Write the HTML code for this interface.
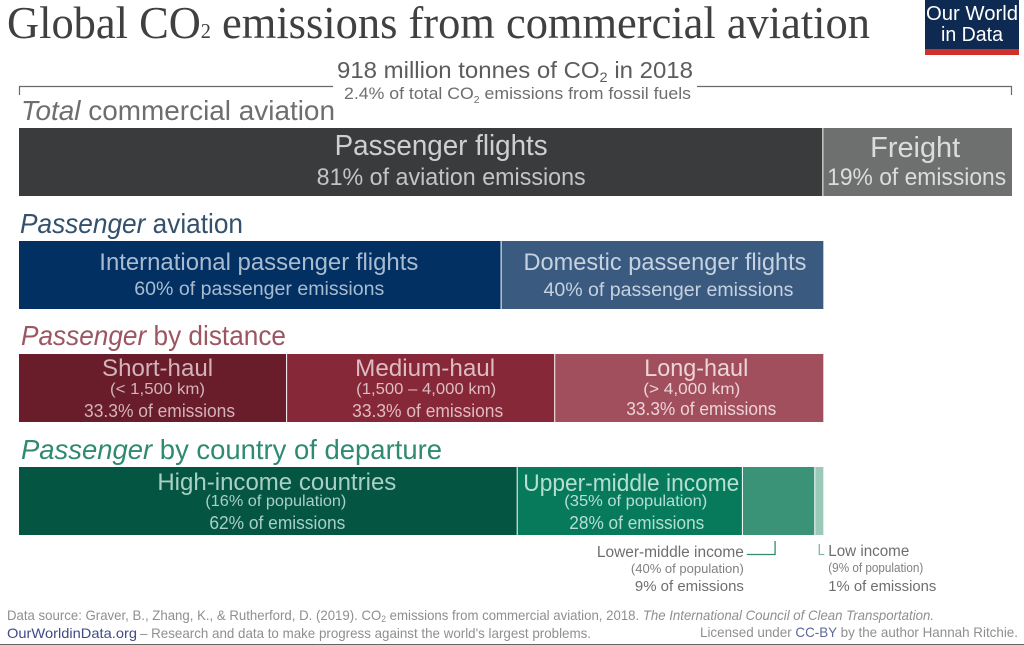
<!DOCTYPE html>
<html lang="en">
<head>
<meta charset="utf-8">
<title>Global CO2 emissions from commercial aviation</title>
<style>
html,body{margin:0;padding:0;background:#fff;}
body{width:1024px;height:645px;overflow:hidden;}
svg{display:block;}
text{font-family:"Liberation Sans",sans-serif;}
.serif{font-family:"Liberation Serif",serif;}
</style>
</head>
<body>
<svg id="chart" xmlns="http://www.w3.org/2000/svg" width="1024" height="645" viewBox="0 0 1024 645">
  <rect x="0" y="0" width="1024" height="645" fill="#ffffff"/>
  <text class="serif" x="7" y="38" font-size="46" fill="#404040" textLength="863" lengthAdjust="spacingAndGlyphs">Global CO<tspan font-size="21">2</tspan> emissions from commercial aviation</text>

  <g>
    <rect x="925" y="0" width="94" height="49" fill="#0f2a52"/>
    <rect x="925" y="49" width="94" height="6" fill="#d0302a"/>
    <text x="972" y="20" font-size="20" fill="#ffffff" text-anchor="middle" textLength="92" lengthAdjust="spacingAndGlyphs">Our World</text>
    <text x="972" y="41" font-size="20" fill="#ffffff" text-anchor="middle" textLength="62" lengthAdjust="spacingAndGlyphs">in Data</text>
  </g>

  <text x="337" y="78" font-size="23" fill="#5c5c5c" textLength="356" lengthAdjust="spacingAndGlyphs">918 million tonnes of CO<tspan font-size="14" dy="4">2</tspan><tspan dy="-4"> in 2018</tspan></text>
  <text x="344" y="99" font-size="17" fill="#6e6e6e" textLength="347" lengthAdjust="spacingAndGlyphs">2.4% of total CO<tspan font-size="10" dy="4">2</tspan><tspan dy="-4"> emissions from fossil fuels</tspan></text>
  <path d="M19.5 95V86.5H333" fill="none" stroke="#6a6a6a" stroke-width="1.2"/>
  <path d="M697 86.5H1011.5V95" fill="none" stroke="#6a6a6a" stroke-width="1.2"/>

  <text x="21" y="120" font-size="28" fill="#6e6e6e" textLength="314" lengthAdjust="spacingAndGlyphs"><tspan font-style="italic">Total</tspan> commercial aviation</text>
  <text x="20" y="233" font-size="28" fill="#33506c" textLength="223" lengthAdjust="spacingAndGlyphs"><tspan font-style="italic">Passenger</tspan> aviation</text>
  <text x="21" y="345" font-size="28" fill="#9c5562" textLength="265" lengthAdjust="spacingAndGlyphs"><tspan font-style="italic">Passenger</tspan> by distance</text>
  <text x="21" y="459" font-size="28" fill="#2e8a71" textLength="421" lengthAdjust="spacingAndGlyphs"><tspan font-style="italic">Passenger</tspan> by country of departure</text>

  <g id="bars"></g>
  <g id="labels"></g>

  <g>
    <text x="7" y="620" font-size="14" fill="#8f8f8f" textLength="927" lengthAdjust="spacingAndGlyphs">Data source: Graver, B., Zhang, K., &amp; Rutherford, D. (2019). CO<tspan font-size="9" dy="2">2</tspan><tspan dy="-2"> emissions from commercial aviation, 2018. </tspan><tspan font-style="italic">The International Council of Clean Transportation.</tspan></text>
    <text x="7" y="638" font-size="14" fill="#3f4c85" textLength="130" lengthAdjust="spacingAndGlyphs">OurWorldinData.org</text>
    <text x="140" y="638" font-size="14" fill="#8f8f8f" textLength="451" lengthAdjust="spacingAndGlyphs">– Research and data to make progress against the world's largest problems.</text>
    <text x="700" y="637" font-size="14" fill="#8f8f8f" textLength="318" lengthAdjust="spacingAndGlyphs">Licensed under <tspan fill="#5a6a9a">CC-BY</tspan> by the author Hannah Ritchie.</text>
    <rect x="0" y="644" width="1024" height="1" fill="#666666"/>
  </g>
</svg>
<script>
// Shares of emissions (percent).
const totalCategories = ['Passenger flights', 'Freight'];
const totalValues = [81, 19];
const passengerCategories = ['International passenger flights', 'Domestic passenger flights'];
const passengerValues = [60, 40];
const distanceCategories = ['Short-haul', 'Medium-haul', 'Long-haul'];
const distanceRanges = ['(< 1,500 km)', '(1,500 – 4,000 km)', '(> 4,000 km)'];
const distanceValues = [33.3, 33.3, 33.3];
const incomeCategories = ['High-income countries', 'Upper-middle income', 'Lower-middle income', 'Low income'];
const incomePopulation = [16, 35, 40, 9];
const incomeValues = [62, 28, 9, 1];

const SVGNS = 'http://www.w3.org/2000/svg';
const barsLayer = document.getElementById('bars');
const labelsLayer = document.getElementById('labels');

// Axis: full width of the total bar is 100% of aviation emissions.
const AXIS_LEFT = 19;
const AXIS_WIDTH = 993;
function xScale(percent) { return AXIS_LEFT + AXIS_WIDTH * percent / 100; }

// Splits [start, end] percent span into segments with pixel edges.
function layoutRow(values, spanStart, spanEnd) {
  const sum = values.reduce(function (a, b) { return a + b; }, 0);
  let cum = 0;
  return values.map(function (v) {
    const from = spanStart + (spanEnd - spanStart) * cum / sum;
    cum += v;
    const to = spanStart + (spanEnd - spanStart) * cum / sum;
    const x0 = xScale(from);
    const x1 = xScale(to);
    return { x0: x0, x1: x1, mid: (x0 + x1) / 2 };
  });
}

function drawBar(name, seg, y, h, fill, sep) {
  const el = document.createElementNS(SVGNS, 'rect');
  
  
  el.setAttribute('x', seg.x0);
  el.setAttribute('y', y);
  el.setAttribute('width', Math.max(0, seg.x1 - seg.x0 - (sep ? 1 : 0)));
  el.setAttribute('height', h);
  el.setAttribute('fill', fill);
  barsLayer.appendChild(el);
}

function drawText(name, content, cx, y, size, fill, width, anchor) {
  const el = document.createElementNS(SVGNS, 'text');
  
  
  el.setAttribute('x', cx);
  el.setAttribute('y', y);
  el.setAttribute('font-size', size);
  el.setAttribute('fill', fill);
  el.setAttribute('text-anchor', anchor || 'middle');
  el.setAttribute('textLength', width);
  el.setAttribute('lengthAdjust', 'spacingAndGlyphs');
  el.textContent = content;
  labelsLayer.appendChild(el);
}

function drawConnector(name, d, stroke) {
  const el = document.createElementNS(SVGNS, 'path');
  
  
  el.setAttribute('d', d);
  el.setAttribute('fill', 'none');
  el.setAttribute('stroke', stroke);
  el.setAttribute('stroke-width', 1.3);
  barsLayer.appendChild(el);
}

// Row 1: total commercial aviation
const totalSegs = layoutRow(totalValues, 0, 100);
drawBar('bar-passenger-flights', totalSegs[0], 128, 68, '#3a3b3d', true);
drawBar('bar-freight', totalSegs[1], 128, 68, '#6e7070', false);
drawText('label-passenger-flights', totalCategories[0], totalSegs[0].mid + 20, 155, 29, '#cfcfcf', 213);
drawText('value-passenger-flights', totalValues[0] + '% of aviation emissions', totalSegs[0].mid + 30, 185, 24, '#c4c4c4', 269);
drawText('label-freight', totalCategories[1], totalSegs[1].mid - 2.5, 157, 29, '#dcdcdc', 90);
drawText('value-freight', totalValues[1] + '% of emissions', totalSegs[1].mid - 1, 185, 24, '#dcdcdc', 179);

// Sub-rows span the passenger share of the total row
const passengerShare = totalValues[0];

// Row 2: passenger aviation
const passengerSegs = layoutRow(passengerValues, 0, passengerShare);
drawBar('bar-international', passengerSegs[0], 241, 68, '#023063', true);
drawBar('bar-domestic', passengerSegs[1], 241, 68, '#3a5a80', false);
drawText('label-international', passengerCategories[0], passengerSegs[0].mid - 1.5, 270, 24, '#a9bccf', 319);
drawText('value-international', passengerValues[0] + '% of passenger emissions', passengerSegs[0].mid - 1, 295, 19, '#a9bccf', 250);
drawText('label-domestic', passengerCategories[1], passengerSegs[1].mid + 2.5, 270, 24, '#c6d2df', 283);
drawText('value-domestic', passengerValues[1] + '% of passenger emissions', passengerSegs[1].mid + 6, 296, 19, '#c6d2df', 250);

// Row 3: passenger by distance
const distanceSegs = layoutRow(distanceValues, 0, passengerShare);
const distanceFills = ['#691d2b', '#872838', '#a14f5d'];
const distanceTextFill = ['#d2b4ba', '#dcbcc2', '#ecd4d8'];
const distanceSlugs = ['short-haul', 'medium-haul', 'long-haul'];
const distanceLabelDx = [4.5, 4, 7];
const distanceRangeDx = [4.5, 5, 2.5];
const distanceValueDx = [6.5, 6.5, 12];
const distanceLabelW = [111, 140, 104];
const distanceRangeW = [95, 140, 97];
const distanceValueY = [417, 417, 415];
const distanceValueW = [151, 151, 150];
distanceSegs.forEach(function (seg, i) {
  drawBar('bar-' + distanceSlugs[i], seg, 354, 68, distanceFills[i], i < 2);
  drawText('label-' + distanceSlugs[i], distanceCategories[i], seg.mid + distanceLabelDx[i], 376, 24, distanceTextFill[i], distanceLabelW[i]);
  drawText('range-' + distanceSlugs[i], distanceRanges[i], seg.mid + distanceRangeDx[i], 394, 16, distanceTextFill[i], distanceRangeW[i]);
  drawText('value-' + distanceSlugs[i], distanceValues[i] + '% of emissions', seg.mid + distanceValueDx[i], distanceValueY[i], 18, distanceTextFill[i], distanceValueW[i]);
});

// Row 4: passenger by country of departure
const incomeSegs = layoutRow(incomeValues, 0, passengerShare);
const incomeFills = ['#055543', '#077a5c', '#3a9377', '#9ac9b8'];
const incomeSlugs = ['high-income', 'upper-middle-income', 'lower-middle-income', 'low-income'];
incomeSegs.forEach(function (seg, i) {
  drawBar('bar-' + incomeSlugs[i], seg, 467, 68, incomeFills[i], i < 3);
});
drawText('label-high-income', incomeCategories[0], incomeSegs[0].mid + 8.5, 490, 24, '#a8d0c4', 239);
drawText('population-high-income', '(' + incomePopulation[0] + '% of population)', incomeSegs[0].mid + 7.5, 506, 16, '#a8d0c4', 141);
drawText('value-high-income', incomeValues[0] + '% of emissions', incomeSegs[0].mid + 9, 529, 18, '#a8d0c4', 136);
drawText('label-upper-middle-income', incomeCategories[1], incomeSegs[1].mid + 1, 491, 24, '#b6dfd2', 216);
drawText('population-upper-middle-income', '(' + incomePopulation[1] + '% of population)', incomeSegs[1].mid + 5.5, 506, 16, '#b6dfd2', 143);
drawText('value-upper-middle-income', incomeValues[1] + '% of emissions', incomeSegs[1].mid + 6.5, 529, 18, '#b6dfd2', 135);

// Outside annotations for the two narrow segments
const lowerSeg = incomeSegs[2];
const lowSeg = incomeSegs[3];
const lowerRight = lowerSeg.x0 + 1;
const lowLeft = lowSeg.x0 + 13;
const lowerTick = lowerSeg.mid - 4;
const lowTick = lowSeg.mid;
drawConnector('connector-lower-middle-income', 'M' + (lowerRight + 3) + ' 554.5H' + lowerTick + 'V541', '#2f8c70');
drawConnector('connector-low-income', 'M' + lowTick + ' 544V554.5H' + (lowTick + 5), '#7fb9a6');
drawText('label-lower-middle-income', incomeCategories[2], lowerRight, 557, 15.5, '#6e6e6e', 147, 'end');
drawText('population-lower-middle-income', '(' + incomePopulation[2] + '% of population)', lowerRight, 573, 13, '#808080', 113, 'end');
drawText('value-lower-middle-income', incomeValues[2] + '% of emissions', lowerRight, 591, 15, '#6e6e6e', 109, 'end');
drawText('label-low-income', incomeCategories[3], lowLeft, 556, 15.5, '#6e6e6e', 81, 'start');
drawText('population-low-income', '(' + incomePopulation[3] + '% of population)', lowLeft, 572, 13, '#808080', 95, 'start');
drawText('value-low-income', incomeValues[3] + '% of emissions', lowLeft, 591, 15, '#6e6e6e', 108, 'start');
</script>
</body>
</html>
